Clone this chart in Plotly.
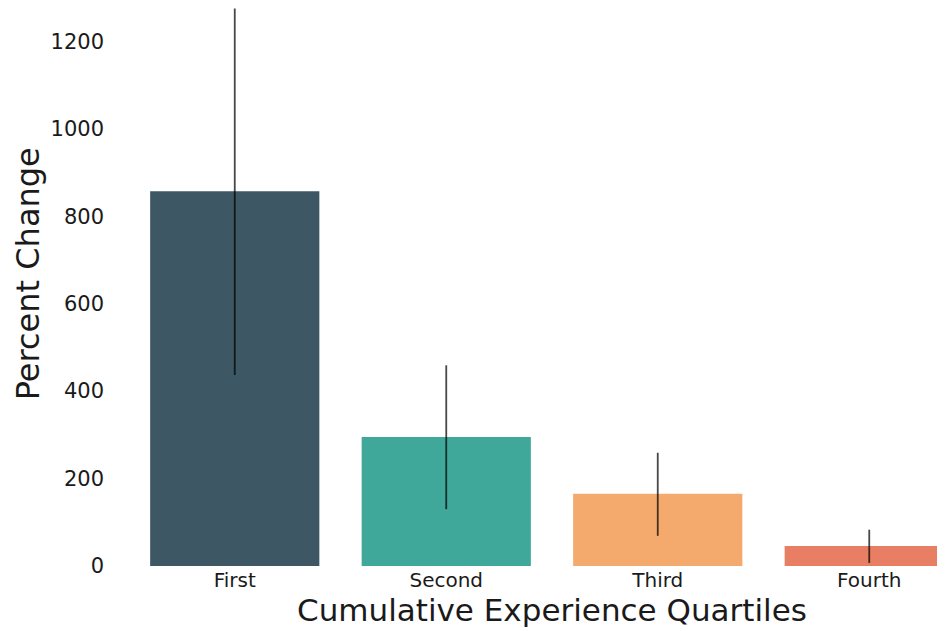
import plotly.graph_objects as go

categories = ["First", "Second", "Third", "Fourth"]
values = [857, 295, 165, 46]
err_upper = [1275, 459, 259, 83]
err_lower = [437, 130, 69, 7]
colors = ["#3d5864", "#3fa89a", "#f4aa6d", "#e87e63"]
y_ticks = [0, 200, 400, 600, 800, 1000, 1200]

xs = list(range(len(categories)))
fig = go.Figure(go.Bar(
    x=xs, y=values, width=0.8,
    marker=dict(color=colors, line=dict(width=0)),
    error_y=dict(type="data", symmetric=False,
                 array=[u - v for u, v in zip(err_upper, values)],
                 arrayminus=[v - l for v, l in zip(values, err_lower)],
                 color="rgba(0,0,0,0.72)", thickness=1.8, width=0),
))

fig.update_layout(
    width=945, height=631,
    margin=dict(l=121, r=0, t=0, b=73),
    plot_bgcolor="white", paper_bgcolor="white",
    font=dict(family="DejaVu Sans", color="#1a1a1a"),
    showlegend=False,
    xaxis=dict(range=[-0.5, 3.396], tickvals=xs, ticktext=categories,
               showgrid=False, zeroline=False, showline=False,
               tickfont=dict(size=20), ticks="", ticklabelstandoff=0),
    yaxis=dict(range=[0, 1276], tickvals=y_ticks, showgrid=False,
               zeroline=False, showline=False, tickfont=dict(size=21),
               ticks="", ticklabelstandoff=24),
    annotations=[
        dict(text="Cumulative Experience Quartiles", xref="x", x=1.5,
             yref="paper", y=0, yanchor="middle", yshift=-44,
             showarrow=False, font=dict(size=31, color="#1a1a1a")),
        dict(text="Percent Change", xref="paper", x=0, xanchor="center",
             xshift=-101, yref="y", y=667, textangle=-90,
             showarrow=False, font=dict(size=32, color="#1a1a1a")),
    ],
)

fig.write_html("out.html")
